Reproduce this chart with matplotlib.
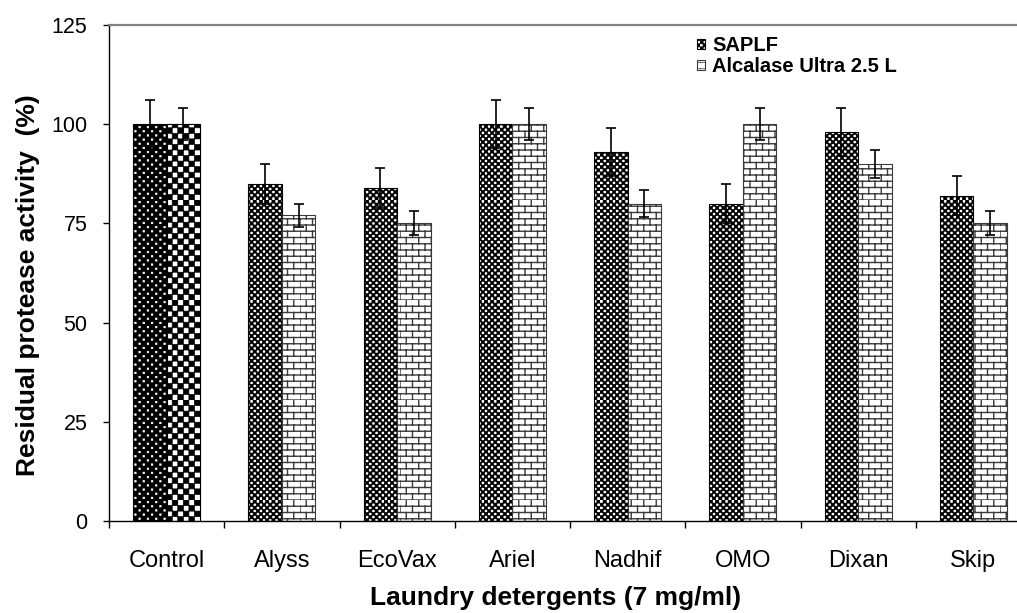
import warnings
import numpy as np
import matplotlib
matplotlib.use('Agg')
import matplotlib.pyplot as plt
from matplotlib import hatch as mhatch
from matplotlib.path import Path

warnings.filterwarnings('ignore')

# datos
categorias = ['Control', 'Alyss', 'EcoVax', 'Ariel', 'Nadhif', 'OMO', 'Dixan', 'Skip']
saplf = [100, 85, 84, 100, 93, 80, 98, 82]
saplf_err = [6, 5, 5, 6, 6, 5, 6, 5]
alcalase = [100, 77, 75, 100, 80, 100, 90, 75]
alcalase_err = [4, 3, 3, 4, 3.5, 4, 3.5, 3]
yticks = [0, 25, 50, 75, 100, 125]


# tramas propias (damero, ladrillo y puntos)
class Damero(mhatch.HatchPatternBase):
    char = 'c'
    cells = 32
    size = 1.0

    def __init__(self, hatch, density):
        self.n = self.cells if self.char in hatch else 0
        self.num_vertices = (self.n * self.n // 2) * 5

    def set_vertices_and_codes(self, vertices, codes):
        s = 1.0 / self.n
        d = s * self.size
        off = (s - d) / 2
        k = 0
        for i in range(self.n):
            for j in range(self.n):
                if (i + j) % 2:
                    continue
                x0, y0 = i * s + off, j * s + off
                vertices[k:k + 5] = [(x0, y0), (x0 + d, y0), (x0 + d, y0 + d),
                                     (x0, y0 + d), (x0, y0)]
                codes[k] = Path.MOVETO
                codes[k + 1:k + 4] = Path.LINETO
                codes[k + 4] = Path.CLOSEPOLY
                k += 5


class DameroGrande(Damero):
    char = 'C'
    cells = 18


class Puntos(Damero):
    char = 'd'
    cells = 24
    size = 0.35


class Ladrillo(mhatch.HatchPatternBase):
    rows = 16
    cols = 8

    def __init__(self, hatch, density):
        self.on = 'b' in hatch
        self.num_vertices = (self.rows + self.rows * self.cols) * 2 if self.on else 0

    def set_vertices_and_codes(self, vertices, codes):
        k = 0
        for r in range(self.rows):
            y = r / self.rows
            vertices[k] = (0, y)
            vertices[k + 1] = (1, y)
            codes[k] = Path.MOVETO
            codes[k + 1] = Path.LINETO
            k += 2
            for c in range(self.cols):
                x = (c + 0.5 * (r % 2)) / self.cols
                vertices[k] = (x, y)
                vertices[k + 1] = (x, y + 1 / self.rows)
                codes[k] = Path.MOVETO
                codes[k + 1] = Path.LINETO
                k += 2


mhatch._hatch_types.extend([Damero, DameroGrande, Puntos, Ladrillo])

plt.rcParams['font.family'] = ['Liberation Sans', 'DejaVu Sans']

fig = plt.figure(figsize=(10.17, 6.13), dpi=100)
ax = fig.add_axes([109 / 1017, 92 / 613, 922 / 1017, 496 / 613])

x = np.arange(len(categorias))
w = 0.29

plt.rcParams['hatch.linewidth'] = 0.5
b1 = ax.bar(x - w / 2, saplf, w, facecolor='white', edgecolor='black', lw=0.8, hatch='c',
            label='SAPLF', zorder=2)
plt.rcParams['hatch.linewidth'] = 1.0
b2 = ax.bar(x + w / 2, alcalase, w, facecolor='white', edgecolor='#3a3a3a', lw=0.8, hatch='b',
            label='Alcalase Ultra 2.5 L', zorder=2)

# el control lleva otras tramas
plt.rcParams['hatch.linewidth'] = 0.5
b1[0].set_facecolor('black')
b1[0].set_hatch('')
ax.bar(x[0] - w / 2, saplf[0], w, facecolor='none', edgecolor='white', lw=0, hatch='d', zorder=2.1)
b2[0].set_hatch('')
ax.bar(x[0] + w / 2, alcalase[0], w, facecolor='white', edgecolor='black', lw=0.8, hatch='C', zorder=2.1)

ax.errorbar(x - w / 2, saplf, yerr=saplf_err, fmt='none', ecolor='black', elinewidth=1.2,
            capsize=3.5, capthick=1.2, zorder=3)
ax.errorbar(x + w / 2, alcalase, yerr=alcalase_err, fmt='none', ecolor='black', elinewidth=1.2,
            capsize=3.5, capthick=1.2, zorder=3)

ax.set_xlim(-0.5, len(categorias) - 0.5)
ax.set_ylim(0, 125)
ax.set_yticks(yticks)
ax.tick_params(axis='y', direction='out', length=4.5, width=1, labelsize=15.5, pad=11)

ax.set_xticks(np.arange(len(categorias) + 1) - 0.5)
ax.set_xticklabels([])
ax.tick_params(axis='x', which='major', direction='out', length=5, width=1)
ax.set_xticks(x, minor=True)
ax.set_xticklabels(categorias, minor=True)
ax.tick_params(axis='x', which='minor', length=0, labelsize=17, pad=21)

ax.spines['right'].set_visible(False)
ax.spines['top'].set_color('#808080')
ax.spines['top'].set_linewidth(1.6)
ax.spines['left'].set_linewidth(1)
ax.spines['bottom'].set_linewidth(1)

ax.set_ylabel('Residual protease activity  (%)', fontsize=19, fontweight='bold')
ax.yaxis.set_label_coords(-0.075, 0.476)
ax.set_xlabel('Laundry detergents (7 mg/ml)', fontsize=19, fontweight='bold', va='top')
ax.xaxis.set_label_coords(0.484, -0.131)

ax.legend(handles=[b1[1], b2[1]], labels=['SAPLF', 'Alcalase Ultra 2.5 L'],
          loc='upper left', bbox_to_anchor=(0.638, 0.977), frameon=False,
          prop={'weight': 'bold', 'size': 14.5}, handlelength=0.4, handleheight=0.4,
          handletextpad=0.35, labelspacing=0.1, borderpad=0, borderaxespad=0)

plt.savefig('out.png', dpi=100)
